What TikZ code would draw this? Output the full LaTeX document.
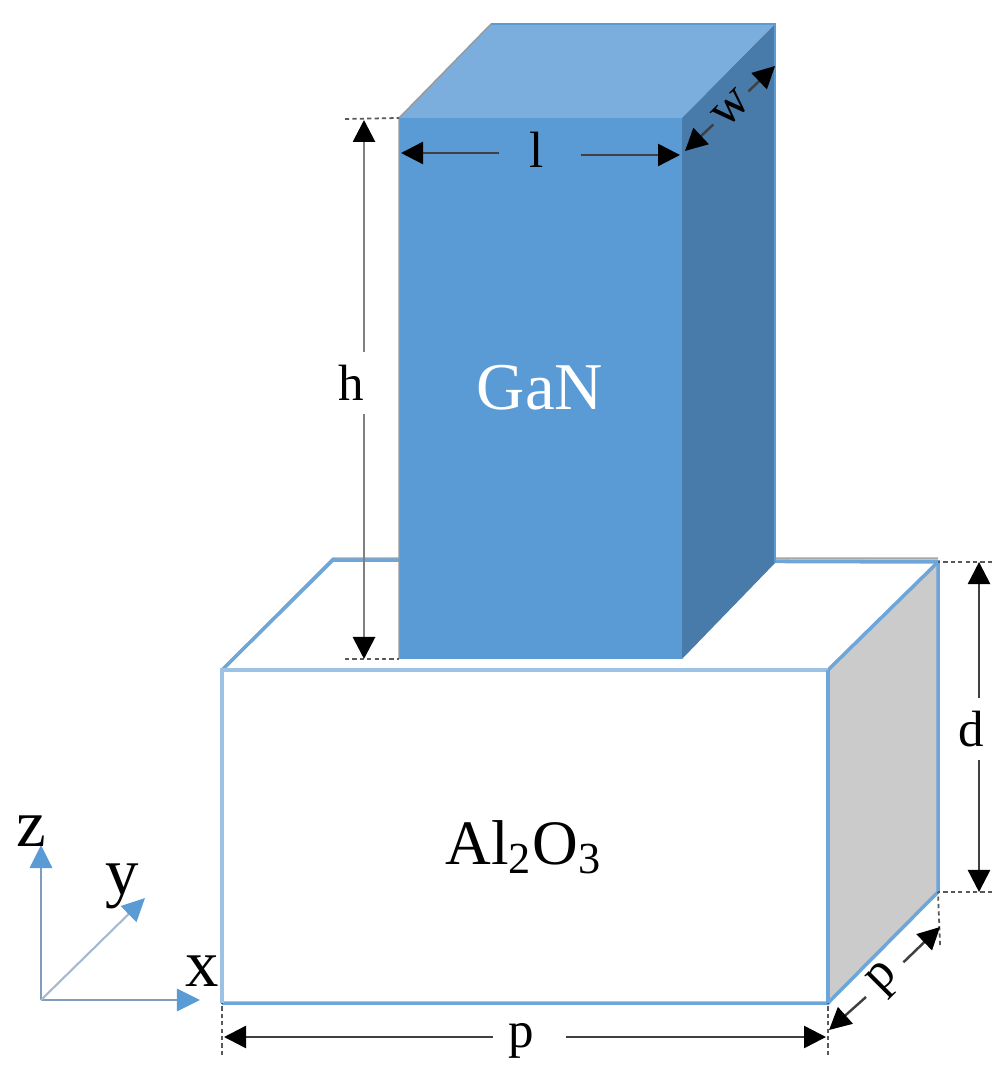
\documentclass[tikz,border=0pt]{standalone}
\usepackage{fontspec}
\setmainfont{Liberation Serif}
\usetikzlibrary{arrows.meta}
\definecolor{ganfront}{HTML}{5B9BD5}
\definecolor{gantop}{HTML}{7CAEDD}
\definecolor{ganside}{HTML}{497BAA}
\definecolor{baseside}{HTML}{CBCBCB}
\definecolor{baseedge}{HTML}{6FA6DA}
\definecolor{baselight}{HTML}{9CC3E6}
\definecolor{axisline}{HTML}{7F9DBB}
\begin{document}
\begin{tikzpicture}[x=0.01cm,y=-0.01cm,
                    dimarrow/.style = {line width=0.7pt,black!75,-{Triangle[length=2.2mm,width=2.2mm,color=black]}},
                    axisarrow/.style = {line width=0.8pt,axisline,-{Triangle[length=2.3mm,width=2.2mm,color=ganfront]}},
                    extline/.style = {dash pattern=on 1.2pt off 0.9pt,line width=0.5pt,black!65},
                    baseline/.style = {line width=1pt,baseedge},
                    dimlabel/.style = {font=\fontsize{14.5}{14.5}\selectfont,inner sep=0pt},
                    axislabel/.style = {font=\fontsize{19}{19}\selectfont,inner sep=0pt}]
    \useasboundingbox (0,0) rectangle (1002,1077);

    % corners of the base
    \coordinate (baseA) at (222,670);
    \coordinate (baseB) at (828,670);
    \coordinate (baseC) at (828,1003);
    \coordinate (baseD) at (222,1003);
    \coordinate (baseE) at (333,560);
    \coordinate (baseF) at (938,562);
    \coordinate (baseG) at (938,892);

    % corners of the pillar
    \coordinate (ganA) at (399,118);
    \coordinate (ganB) at (682,118);
    \coordinate (ganC) at (682,659);
    \coordinate (ganD) at (399,659);
    \coordinate (ganE) at (491,24);
    \coordinate (ganF) at (775,24);
    \coordinate (ganG) at (775,563);

    % base
    \fill[baseside] (baseB) -- (baseF) -- (baseG) -- (baseC) -- cycle;
    \draw[black!35,line width=0.7pt] (baseA) -- (333,558.5) -- (938,558.5);
    \draw[baseline] (baseA) -- (baseE) -- (baseF) -- (baseG) -- (baseC) -- (baseD);
    \draw[baseline] (baseB) -- (baseF);
    \draw[baselight,line width=1.2pt] (baseD) -- (baseA) -- (baseB);
    \draw[baseline] (baseB) -- (baseC);

    % pillar
    \fill[ganfront] (ganA) -- (ganB) -- (ganC) -- (ganD) -- cycle;
    \fill[gantop] (ganA) -- (ganE) -- (ganF) -- (ganB) -- cycle;
    \fill[ganside] (ganB) -- (ganF) -- (ganG) -- (ganC) -- cycle;
    \draw[black!40,line width=0.4pt] (ganD) -- (ganA) -- (ganE);
    \draw[ganfront,line width=0.6pt] (ganE) -- (ganF) -- (ganG);

    \node (ganText) at (540,388) {\fontsize{19}{19}\selectfont\color{white}GaN};
    \node (baseText) at (524,847) {\fontsize{18}{18}\selectfont Al\textsubscript{2}O\textsubscript{3}};

    % extension lines
    \coordinate (hTick) at (345,119);
    \coordinate (hTickB) at (345,659);
    \coordinate (dTick) at (992,562);
    \coordinate (dTickB) at (992,892);
    \coordinate (pTickR) at (940,945);
    \coordinate (pTickC) at (828,1055);
    \coordinate (pTickD) at (222,1055);
    \draw[extline] (hTick) -- (ganA);
    \draw[extline] (hTickB) -- (ganD);
    \draw[extline] (dTick) -- (baseF);
    \draw[extline] (dTickB) -- (baseG);
    \draw[extline] (pTickR) -- (baseG);
    \draw[extline] (pTickC) -- (baseC);
    \draw[extline] (pTickD) -- (baseD);

    % height
    \node [dimlabel,minimum height=6mm] (hLabel) at (351,383) {h};
    \coordinate (hTop) at (364,120);
    \coordinate (hBottom) at (364,659);
    \draw[dimarrow,black!50,line width=0.8pt] (hTop |- hLabel.north) -- (hTop);
    \draw[dimarrow,black!50,line width=0.8pt] (hBottom |- hLabel.south) -- (hBottom);

    % length
    \node [dimlabel] (lLabel) at (537,150) {l};
    \coordinate (lLeft) at (401,153);
    \coordinate (lRight) at (680,155);
    \draw[dimarrow,shorten <=3mm] (lLabel.west |- lLeft) -- (lLeft);
    \draw[dimarrow,shorten <=3.6mm] (lLabel.east |- lRight) -- (lRight);

    % width
    \node [dimlabel,rotate=45] (wLabel) at (731,108) {w};
    \coordinate (wLeft) at (685,151);
    \coordinate (wRight) at (775,66);
    \draw[dimarrow,shorten <=0.5mm] (wLabel) -- (wLeft);
    \draw[dimarrow,shorten <=0.5mm] (wLabel) -- (wRight);

    % base thickness
    \node [dimlabel,minimum height=6mm] (dLabel) at (971,729) {d};
    \coordinate (dTop) at (979,562);
    \coordinate (dBottom) at (979,892);
    \draw[dimarrow] (dTop |- dLabel.north) -- (dTop);
    \draw[dimarrow] (dBottom |- dLabel.south) -- (dBottom);

    % base length
    \node [dimlabel] (pLabel) at (521,1041) {p};
    \coordinate (pLeft) at (224,1037);
    \coordinate (pRight) at (826,1037);
    \draw[dimarrow,shorten <=1.5mm] (pLabel.west |- pLeft) -- (pLeft);
    \draw[dimarrow,shorten <=3.2mm] (pLabel.east |- pRight) -- (pRight);

    % base depth
    \node [dimlabel,rotate=45] (qLabel) at (885,980) {p};
    \coordinate (qLeft) at (829,1030);
    \coordinate (qRight) at (940,927);
    \draw[dimarrow,shorten <=1.2mm] (qLabel) -- (qLeft);
    \draw[dimarrow,shorten <=1.2mm] (qLabel) -- (qRight);

    % axes
    \coordinate (origin) at (41,1000);
    \coordinate (xEnd) at (200,1000);
    \coordinate (yEnd) at (145,898);
    \coordinate (zEnd) at (41,845);
    \draw[axisarrow] (origin) -- (xEnd);
    \draw[axisarrow] (origin) -- (zEnd);
    \draw[axisarrow,line width=0.6pt,axisline!70] (origin) -- (yEnd);
    \node [axislabel] (xLabel) at (202,971) {x};
    \node [axislabel] (yLabel) at (122,886) {y};
    \node [axislabel] (zLabel) at (31,831) {z};
\end{tikzpicture}
\end{document}
